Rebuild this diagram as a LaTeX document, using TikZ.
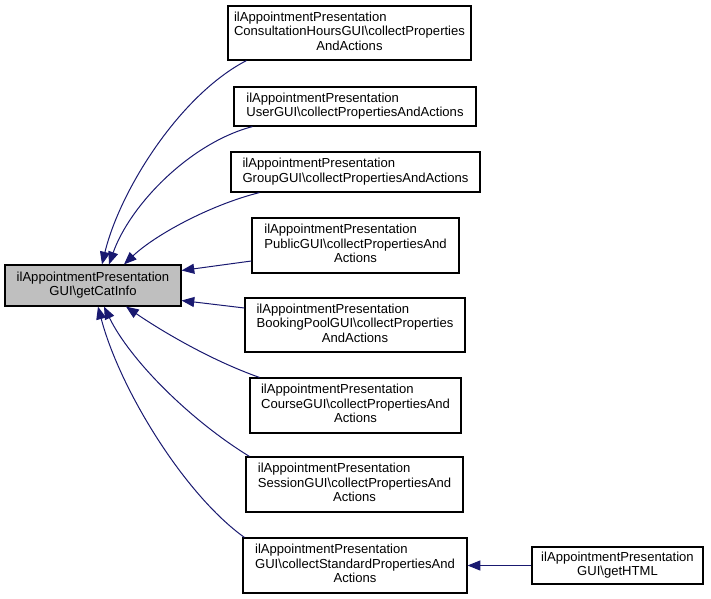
\documentclass[tikz,border=0pt]{standalone}
\usepackage{fontspec}
\setmainfont{Liberation Sans}
\usetikzlibrary{arrows.meta,calc}
\definecolor{edgeblue}{HTML}{191970}
\definecolor{boxgray}{HTML}{BFBFBF}
\newcommand{\bt}[2]{\begin{tabular}{@{}l@{}}#1\\\multicolumn{1}{@{}c@{}}{#2}\end{tabular}}
\newcommand{\bs}{\textbackslash}
\tikzset{
  fn/.style n args={2}{draw=black, fill=white, line width=0.9pt, rectangle,
    minimum width=#1*0.75pt, minimum height=#2*0.75pt, inner sep=0pt,
    font=\fontsize{9.8}{10.9}\selectfont},
  call/.style={draw=edgeblue, line width=0.75pt,
    {Triangle[length=9.5pt,width=7.5pt,fill=edgeblue]}-},
}
\begin{document}
\begin{tikzpicture}[x=0.75pt,y=-0.75pt]
\useasboundingbox (0,0) rectangle (711,599);
\node[fn={176}{41}, fill=boxgray] (cat) at (93,285.5) {\bt{ilAppointmentPresentation}{GUI\bs getCatInfo}};
\node[fn={243}{54}] (cons) at (349.5,33) {\bt{ilAppointmentPresentation\\ConsultationHoursGUI\bs collectProperties}{AndActions}};
\node[fn={242}{39}] (user) at (355,106.5) {\bt{ilAppointmentPresentation}{UserGUI\bs collectPropertiesAndActions}};
\node[fn={249}{40}] (group) at (355.5,172) {\bt{ilAppointmentPresentation}{GroupGUI\bs collectPropertiesAndActions}};
\node[fn={207}{55}] (public) at (355.5,245.5) {\bt{ilAppointmentPresentation\\PublicGUI\bs collectPropertiesAnd}{Actions}};
\node[fn={220}{54}] (booking) at (355,325) {\bt{ilAppointmentPresentation\\BookingPoolGUI\bs collectProperties}{AndActions}};
\node[fn={211}{55}] (course) at (355.5,405.5) {\bt{ilAppointmentPresentation\\CourseGUI\bs collectPropertiesAnd}{Actions}};
\node[fn={217}{55}] (session) at (354.5,484.5) {\bt{ilAppointmentPresentation\\SessionGUI\bs collectPropertiesAnd}{Actions}};
\node[fn={224}{55}] (std) at (355,565.5) {\bt{ilAppointmentPresentation\\GUI\bs collectStandardPropertiesAnd}{Actions}};
\node[fn={171}{37}] (html) at (617.5,565.5) {\bt{ilAppointmentPresentation}{GUI\bs getHTML}};
% edges (arrow at getCatInfo)
\draw[call] ($(cat.north)+(9,0)$) .. controls (120,190) and (180,95) .. ($(cons.south west)+(19,0)$);
\draw[call] ($(cat.north)+(16,0)$) .. controls (130,205) and (190,143) .. ($(user.south west)+(19,0)$);
\draw[call] ($(cat.north)+(31,0)$) .. controls (155,235) and (210,205) .. ($(group.south west)+(29,0)$);
\draw[call] ($(cat.east)+(0,-15)$) -- ($(public.west)+(0,15.5)$);
\draw[call] ($(cat.east)+(0,15)$) -- ($(booking.west)+(0,-17)$);
\draw[call] ($(cat.south)+(33,0)$) .. controls (160,330) and (210,360) .. ($(course.north west)+(10,0)$);
\draw[call] ($(cat.south)+(11,0)$) .. controls (130,360) and (190,420) .. ($(session.north west)+(4,0)$);
\draw[call] ($(cat.south)+(5,0)$) .. controls (120,390) and (185,495) .. ($(std.north west)+(2,0)$);
\draw[call] (std.east) -- (html.west);
\end{tikzpicture}
\end{document}
